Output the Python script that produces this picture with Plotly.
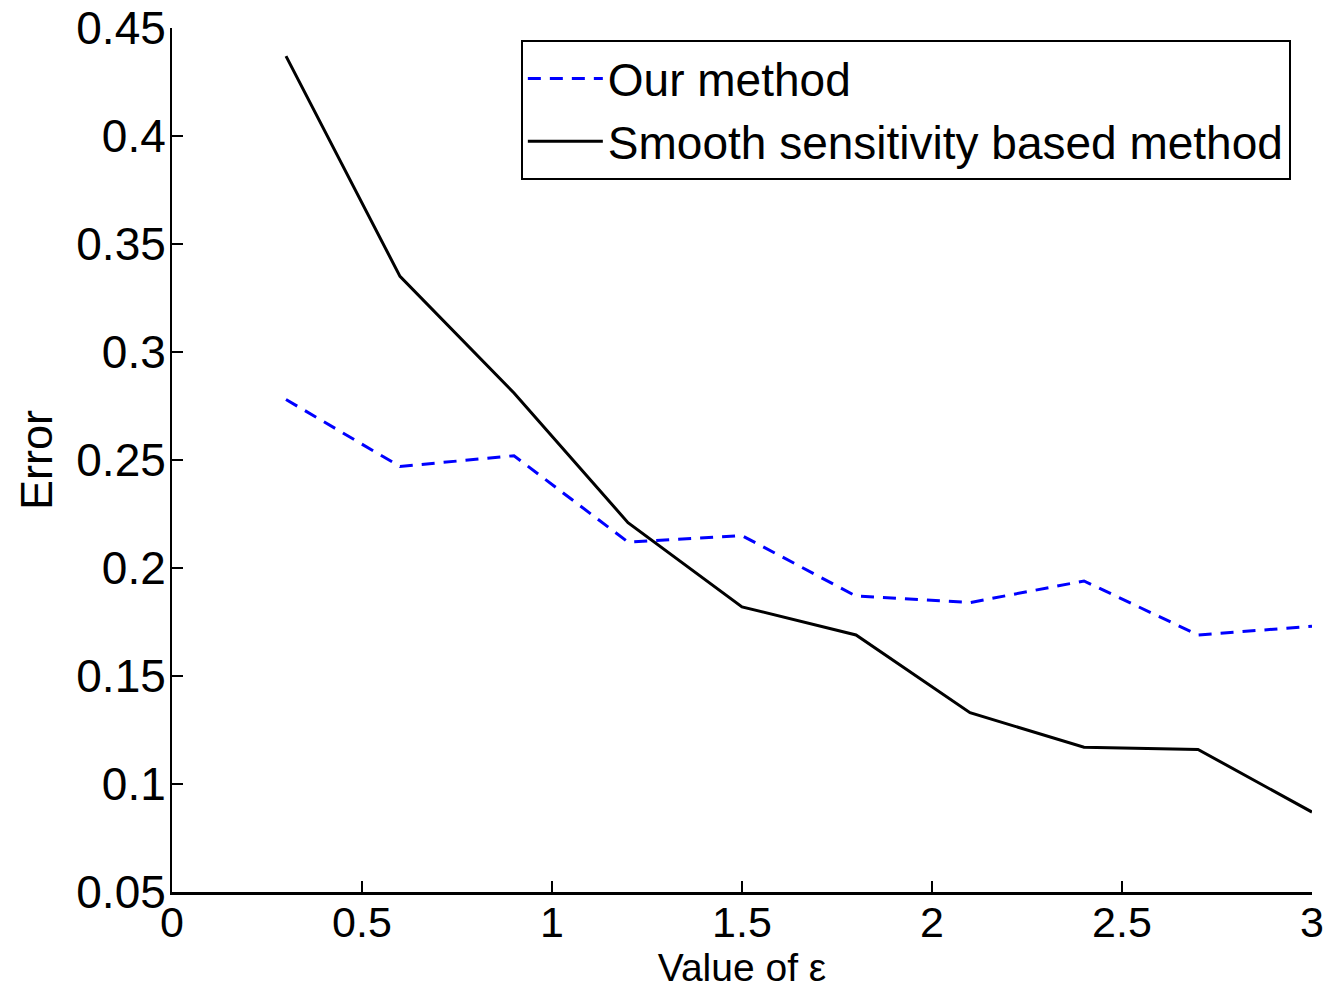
import plotly.graph_objects as go

eps = [0.3, 0.6, 0.9, 1.2, 1.5, 1.8, 2.1, 2.4, 2.7, 3.0]
our_method = [0.278, 0.247, 0.252, 0.212, 0.215, 0.187, 0.184, 0.194, 0.169, 0.173]
smooth_method = [0.437, 0.335, 0.281, 0.221, 0.182, 0.169, 0.133, 0.117, 0.116, 0.087]

x_tickvals = [0, 0.5, 1, 1.5, 2, 2.5, 3]
x_ticktext = ["0", "0.5", "1", "1.5", "2", "2.5", "3"]
y_tickvals = [0.05, 0.1, 0.15, 0.2, 0.25, 0.3, 0.35, 0.4, 0.45]
y_ticktext = ["0.05", "0.1", "0.15", "0.2", "0.25", "0.3", "0.35", "0.4", "0.45"]

FONT = "Liberation Sans, Arial, sans-serif"

fig = go.Figure()
fig.add_trace(go.Scatter(
    x=eps, y=our_method, mode="lines", name="Our method",
    line=dict(color="#0000ff", width=3, dash="13px,9px"),
))
fig.add_trace(go.Scatter(
    x=eps, y=smooth_method, mode="lines", name="Smooth sensitivity based method",
    line=dict(color="#000000", width=3),
))

fig.update_layout(
    width=1329, height=990,
    margin=dict(l=172, r=17, t=28, b=98),
    paper_bgcolor="white", plot_bgcolor="white",
    font=dict(family=FONT, size=45, color="black"),
    showlegend=True,
    legend=dict(
        x=0.306, y=0.986, xanchor="left", yanchor="top",
        bgcolor="white", bordercolor="black", borderwidth=2,
        font=dict(family=FONT, size=46, color="black"),
        tracegroupgap=0, itemwidth=75,
    ),
    xaxis=dict(
        range=[0, 3], tickvals=x_tickvals, ticktext=x_ticktext,
        showline=True, linecolor="black", linewidth=3, mirror=False,
        ticks="inside", ticklen=11, tickwidth=2, tickcolor="black",
        showgrid=False, zeroline=False, automargin=False,
        tickfont=dict(size=43), ticklabelstandoff=-10,
        title=dict(text="Value of ε", standoff=0, font=dict(size=39)),
    ),
    yaxis=dict(
        range=[0.05, 0.45], tickvals=y_tickvals, ticktext=y_ticktext,
        showline=True, linecolor="black", linewidth=2, mirror=False,
        ticks="inside", ticklen=11, tickwidth=2, tickcolor="black",
        showgrid=False, zeroline=False, automargin=False,
        tickfont=dict(size=46), ticklabelstandoff=-5,
        title=dict(text="Error", standoff=10, font=dict(size=45)),
    ),
)

fig.write_html("out.html")
